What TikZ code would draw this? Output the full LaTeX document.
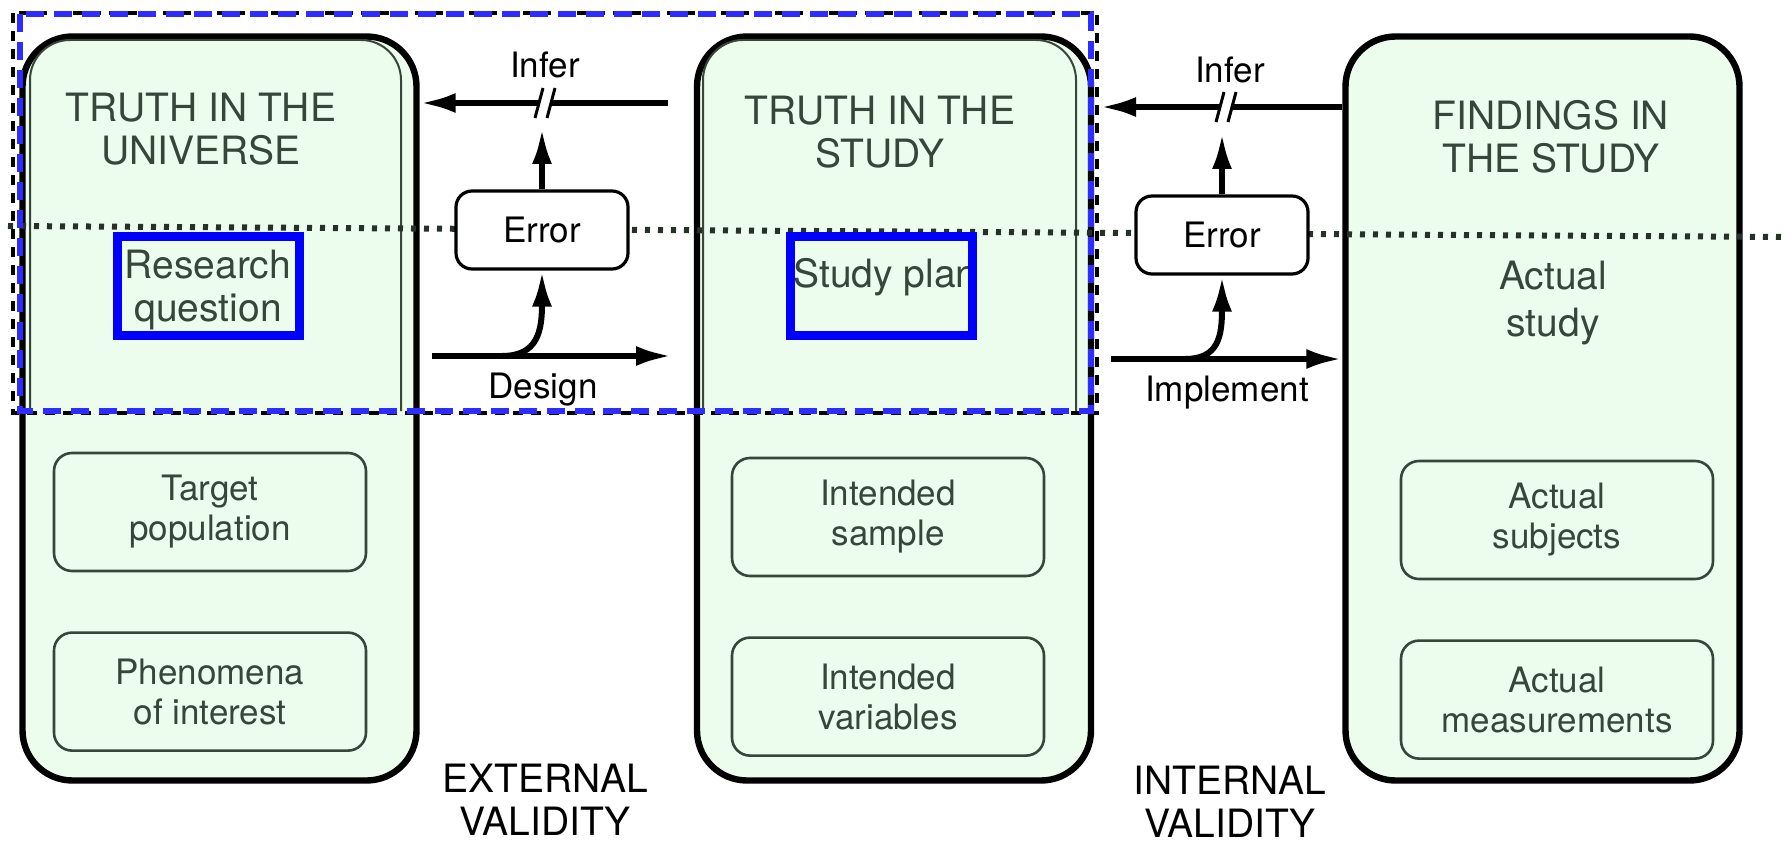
\documentclass[tikz,border=0pt]{standalone}
\usepackage{fontspec}
\setmainfont{TeX Gyre Heros}
\usetikzlibrary{arrows.meta,positioning}
\definecolor{boxfill}{RGB}{236,252,237}
\definecolor{ink}{RGB}{55,70,57}
\definecolor{dashblue}{RGB}{45,45,255}
\tikzset{
  stage/.style  = {draw, line width=3.2pt, rounded corners=25pt, fill=boxfill, minimum width=197pt, minimum height=372pt},
  head/.style   = {text=ink, align=center, font=\fontsize{19.5}{21.5}\selectfont},
  item/.style   = {draw=ink, line width=1.3pt, rounded corners=9pt, minimum width=156pt, minimum height=59pt, align=center, text=ink, font=\fontsize{17.5}{20}\selectfont},
  errbox/.style = {draw, line width=1.6pt, rounded corners=8pt, fill=white, minimum width=86pt, minimum height=39pt, font=\fontsize{17.5}{20}\selectfont},
  lbl/.style    = {align=center, font=\fontsize{17.5}{20}\selectfont},
  line/.style   = {-{Latex[length=18pt,width=10pt]}, line width=3pt},
  hilite/.style = {draw=blue, line width=4.5pt, minimum width=91pt, minimum height=49.5pt},
  brk/.pic      = {\fill[white] (-10,15) -- (2,15) -- (10,-15) -- (-2,-15) -- cycle;
                   \draw[line width=1.5pt] (-10,15) -- (-2,-15) (2,15) -- (10,-15);},
}
\begin{document}
\begin{tikzpicture}[x=0.5pt,y=-0.5pt]
  \useasboundingbox (0,0) rectangle (1791,845);

  \node[stage] (universe) at (219.5,408.5) {};
  \node[stage] (study) at (894,408.5) {};
  \node[stage] (findings) at (1542.5,408.5) {};
  \draw[ink, line width=1pt, rounded corners=20pt] (30,411) -- (30,40) -- (401,40) -- (401,411);
  \draw[ink, line width=1pt, rounded corners=20pt] (703,411) -- (703,40) -- (1076,40) -- (1076,411);
  \draw[ink!70!black, line width=3pt, dash pattern=on 2.5pt off 4pt] (8,226) -- (1785,237);

  \node[head] (tUniverse) at (201,129) {TRUTH IN THE\\UNIVERSE};
  \node[head] (tStudy) at (880,132) {TRUTH IN THE\\STUDY};
  \node[head] (tFindings) at (1551,137) {FINDINGS IN\\THE STUDY};

  \node[head] (question) at (208,290) {Research\\question};
  \node[head, anchor=base west, inner sep=0pt] (plan) at (793,287) {Study plan};
  \node[head, font=\fontsize{19.5}{23.5}\selectfont] (actual) at (1553,303) {Actual\\study};
  \node[hilite] (qbox) at (208.5,286) {};
  \node[hilite] (pbox) at (881.5,286) {};

  \node[item] (target) at (210,512) {Target\\population};
  \node[item, below=29.5pt of target] (pheno) {Phenomena\\of interest};
  \node[item] (sample) at (888,517) {Intended\\sample};
  \node[item, below=29.5pt of sample] (vars) {Intended\\variables};
  \node[item] (subjects) at (1557,520) {Actual\\subjects};
  \node[item, below=29.5pt of subjects] (measures) {Actual\\measurements};

  \node[errbox] (errU) at (542,230) {Error};
  \node[errbox] (errF) at (1222,235) {Error};

  \coordinate (inferU) at (668,103);
  \coordinate (inferF) at (1100,107);
  \draw[line] (inferU) -- (universe.east |- inferU);
  \draw[line] (findings.west |- inferF) -- (inferF);
  \pic at (545,103) {brk};
  \pic at (1226,107) {brk};
  \coordinate (upU) at (542,128);
  \coordinate (upF) at (1222,133);
  \draw[line] (errU.north) -- (upU);
  \draw[line] (errF.north) -- (upF);

  \coordinate (designA) at (432,356);
  \coordinate (designB) at (672,356);
  \draw[line] (designA) -- (designB);
  \draw[line] (designA) ++(70,0) .. controls +(36,0) and +(0,60) .. (errU.south);
  \coordinate (implA) at (1111,359);
  \draw[line] (implA) -- (findings.west |- implA);
  \draw[line] (implA) ++(74,0) .. controls +(34,0) and +(0,60) .. (errF.south);

  \node[lbl] (lInferU) at (545,65) {Infer};
  \node[lbl] (lInferF) at (1230,70) {Infer};
  \node[lbl] (lDesign) at (543,390) {Design};
  \node[lbl] (lImpl) at (1227,393) {Implement};
  \node[head, text=black] (external) at (545,800) {EXTERNAL\\VALIDITY};
  \node[head, text=black] (internal) at (1230,802) {INTERNAL\\VALIDITY};

  \draw[line width=2pt, dash pattern=on 5pt off 4pt] (13,13) rectangle (1097,413);
  \draw[dashblue, line width=3pt, dash pattern=on 9pt off 5pt] (20,14) rectangle (1091,411);
\end{tikzpicture}
\end{document}
